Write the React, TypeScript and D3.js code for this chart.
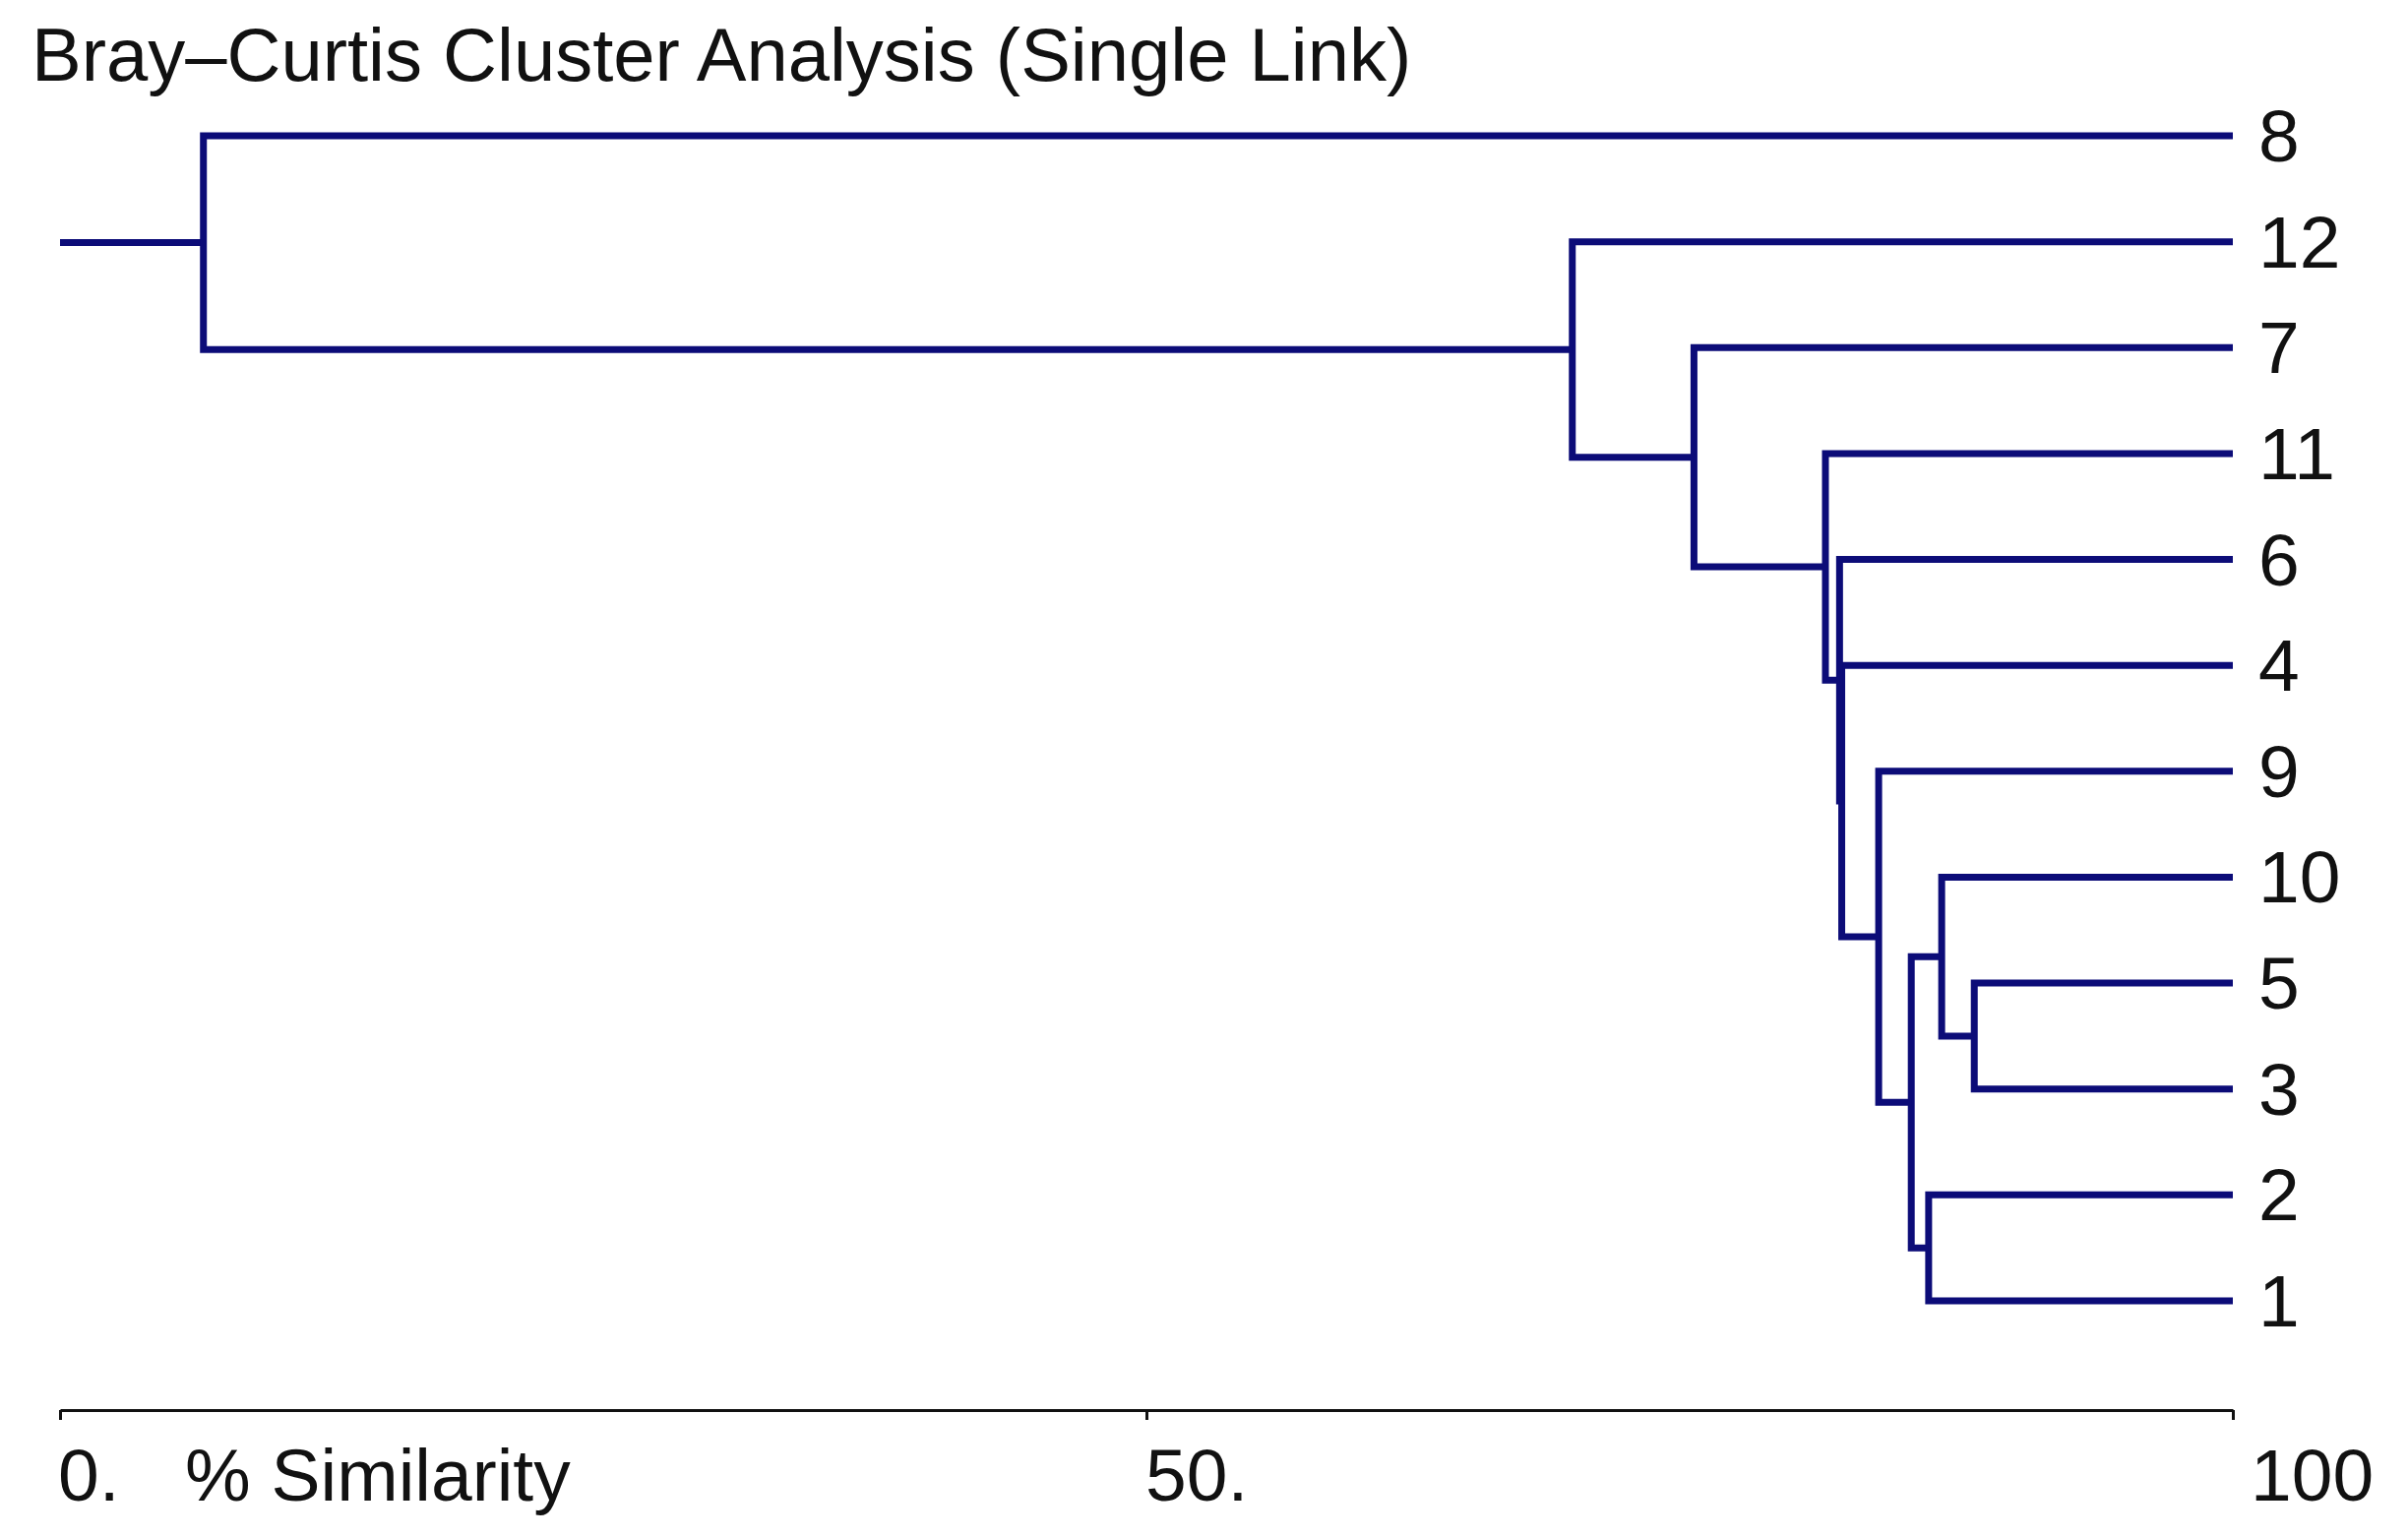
import React, { useEffect, useRef } from 'react';
import * as d3 from 'd3';

// leaves top to bottom, as printed on the right
const leaves = ['8', '12', '7', '11', '6', '4', '9', '10', '5', '3', '2', '1'];

// merges: [id, left child, right child, % similarity]
const merges: [string, string, string, number][] = [
  ['A', '5', '3', 88.1],
  ['B', '10', 'A', 86.6],
  ['C', '2', '1', 86.0],
  ['D', 'B', 'C', 85.2],
  ['E', '9', 'D', 83.7],
  ['F', '4', 'E', 82.0],
  ['G', '6', 'F', 81.9],
  ['H', '11', 'G', 81.25],
  ['I', '7', 'H', 75.2],
  ['J', '12', 'I', 69.6],
  ['K', '8', 'J', 6.6],
];

const tickValues = [0, 50, 100];
const tickLabels = ['0.', '50.', '100'];

const title = 'Bray\u2013Curtis Cluster Analysis (Single Link)';
const axisTitle = '% Similarity';

const W = 2447;
const H = 1562;
const LINE = '#0c0c78';
const FONT = '"Liberation Sans", Arial, sans-serif';

export default function App() {
  const axisRef = useRef<SVGGElement>(null);

  const x = d3.scaleLinear().domain([0, 100]).range([61, 2269]);
  const y = d3.scalePoint<string>().domain(leaves).range([138, 1322]);
  const axisY = 1433;

  // 1) node positions
  const pos = new Map<string, { x: number; y: number }>();
  leaves.forEach((l) => pos.set(l, { x: x(100), y: y(l)! }));
  merges.forEach(([id, a, b, s]) => {
    const pa = pos.get(a)!;
    const pb = pos.get(b)!;
    pos.set(id, { x: x(s), y: (pa.y + pb.y) / 2 });
  });
  const root = pos.get(merges[merges.length - 1][0])!;

  // 2) axis
  useEffect(() => {
    if (!axisRef.current) return;
    const g = d3.select(axisRef.current);
    g.selectAll('*').remove();
    g.call(
      d3.axisBottom(x).tickValues(tickValues).tickSize(10).tickSizeOuter(0).tickFormat(() => '')
    );
    g.select('.domain').attr('stroke', '#111').attr('stroke-width', 3);
    g.selectAll('.tick line').attr('stroke', '#111').attr('stroke-width', 3);
  }, []);

  const labelOffset = [-2, -1, 18];

  return (
    <svg
      width={W}
      height={H}
      style={{ position: 'fixed', left: 0, top: 0, background: '#fff' }}
      fontFamily={FONT}
    >
      <rect width={W} height={H} fill="#fff" />
      <text x={32} y={82} fontSize={76} fill="#111">
        {title}
      </text>

      <g fill="none" stroke={LINE} strokeWidth={7} strokeLinejoin="miter">
        <line x1={x(0)} x2={root.x} y1={root.y} y2={root.y} />
        {merges.map(([id, a, b]) => {
          const n = pos.get(id)!;
          const pa = pos.get(a)!;
          const pb = pos.get(b)!;
          return (
            <path
              key={id}
              d={`M${pa.x},${pa.y}H${n.x}V${pb.y}H${pb.x}`}
            />
          );
        })}
      </g>

      <g fontSize={75} fill="#111">
        {leaves.map((l) => (
          <text key={l} x={x(100) + 26} y={y(l)! + 26}>
            {l}
          </text>
        ))}
      </g>

      <g ref={axisRef} transform={`translate(0,${axisY})`} />

      <g fontSize={75} fill="#111">
        {tickValues.map((t, i) => (
          <text key={t} x={x(t) + labelOffset[i]} y={1525}>
            {tickLabels[i]}
          </text>
        ))}
        <text x={188} y={1525}>
          {axisTitle}
        </text>
      </g>
    </svg>
  );
}
